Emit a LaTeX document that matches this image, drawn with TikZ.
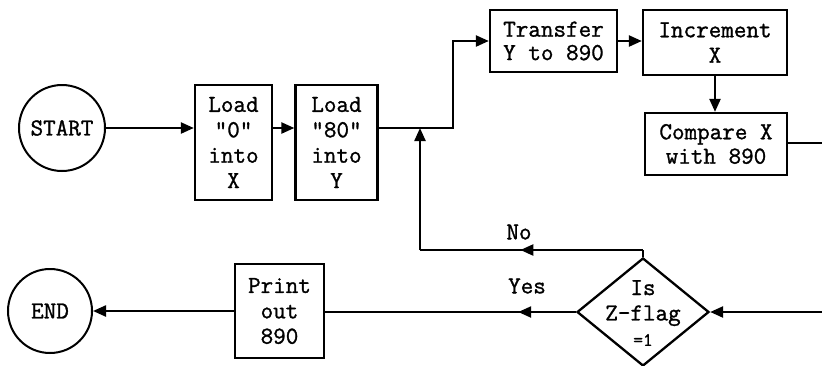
\documentclass[tikz,border=0pt]{standalone}
\usepackage{fontspec}
\setmonofont[FakeBold=1.2]{Latin Modern Mono}
\usetikzlibrary{arrows.meta,shapes.geometric,decorations.markings}
\begin{document}
\begin{tikzpicture}[x=1bp,y=-1bp,
  font=\ttfamily\fontsize{24.5}{25.5}\selectfont,
  box/.style={draw,line width=2.3bp,align=center,inner sep=0pt},
  term/.style={draw,circle,line width=2bp,inner sep=0pt},
  conn/.style={line width=2.3bp},
  arr/.style={conn,-{Triangle[length=13bp,width=11bp]}},
  midarr/.style={conn,decoration={markings,mark=at position #1 with {\arrow{Triangle[length=13bp,width=11bp]}}},postaction={decorate}}]
\useasboundingbox (0,0) rectangle (822,365);
\node[term,minimum size=86bp] (start) at (62,128) {START};
\node[box,minimum width=77bp,minimum height=115bp] (load0) at (233.5,142.5) {Load\\"0"\\into\\X};
\node[box,minimum width=82bp,minimum height=115bp] (load80) at (336.5,142.5) {Load\\"80"\\into\\Y};
\node[box,minimum width=127bp,minimum height=62bp,font=\ttfamily\fontsize{24.5}{23.5}\selectfont] (transfer) at (553.5,41) {Transfer\\Y to 890};
\node[box,minimum width=144bp,minimum height=65bp] (incr) at (715,42.5) {Increment\\X};
\node[box,minimum width=142bp,minimum height=62bp,font=\ttfamily\fontsize{24.5}{24.5}\selectfont] (compare) at (716,144) {Compare X\\with 890};
\node[diamond,draw,line width=2.3bp,minimum width=132bp,minimum height=108bp,inner sep=0pt] (dia) at (643,312) {};
\node[align=center,inner sep=0pt] (diatext) at (643,313) {Is\\Z-flag\\{\fontsize{19}{19}\selectfont =1}};
\node[box,minimum width=89bp,minimum height=94bp] (print) at (279.5,311) {Print\\out\\890};
\node[term,minimum size=84bp] (end) at (50,311) {END};
\node (no) at (519,232) {No};
\node (yes) at (527,286) {Yes};
\coordinate (bend) at (453,41);
\coordinate (nob) at (420,250);
\coordinate (cr) at (824,143);
\coordinate (br) at (824,312);
\draw[arr] (start.east) -- (start.east -| load0.west);
\draw[arr] (load0.east |- start) -- (load80.west |- start);
\draw[arr] (load80.east |- start) -| (bend) -- (transfer.west);
\draw[arr] (transfer.east) -- (incr.west |- transfer.east);
\draw[arr] (incr.south) -- (incr.south |- compare.north);
\draw[conn] (compare.east |- cr) -- (cr);
\draw[arr] (br) -- (dia.east);
\draw[midarr=0.23] (dia.west) -- (print.east |- dia.west);
\draw[arr] (print.west) -- (end.east |- print.west);
\draw[conn] (dia.north) -- (dia.north |- nob);
\draw[midarr=0.55] (dia.north |- nob) -- (nob);
\draw[arr] (nob) -- (nob |- start);
\end{tikzpicture}
\end{document}
